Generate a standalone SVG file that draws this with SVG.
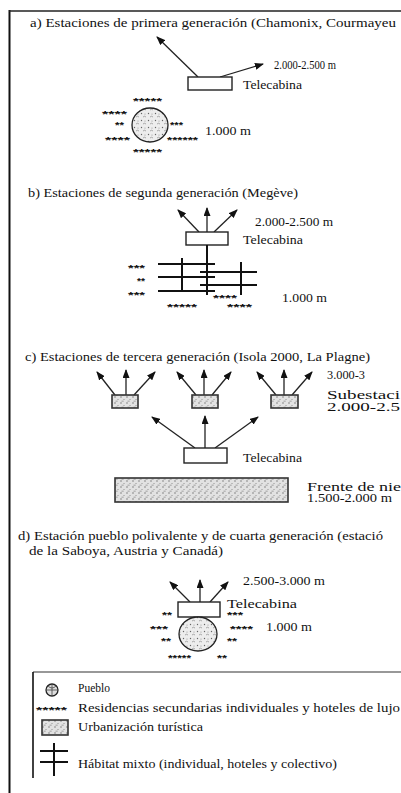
<svg xmlns="http://www.w3.org/2000/svg" width="401" height="793" viewBox="0 0 401 793">
<style>
text{font-family:"Liberation Serif","Times New Roman",serif;fill:#111}
.t{font-size:12.5px}
.s{font-size:11.5px}
.st{font-family:"Liberation Sans",Arial,sans-serif;font-size:9px;font-weight:bold}
.ln{stroke:#222;stroke-width:1.3;fill:none}
.box{fill:#fff;stroke:#222;stroke-width:1.4}
.sbox{fill:url(#stip);stroke:#333;stroke-width:1.6}
.grid{stroke:#111;stroke-width:2;fill:none}
.pue{fill:url(#stip2);stroke:#222;stroke-width:1.3}
</style>
<defs>
<marker id="ah" markerUnits="userSpaceOnUse" markerWidth="9" markerHeight="7" refX="8" refY="3.5" orient="auto">
<path d="M0,0 L9,3.5 L0,7 z" fill="#111"/>
</marker>
<pattern id="stip" width="6" height="6" patternUnits="userSpaceOnUse">
<rect width="6" height="6" fill="#e2e2e2"/>
<circle cx="1" cy="1" r="0.7" fill="#6a6a6a"/>
<circle cx="4" cy="3.5" r="0.6" fill="#8a8a8a"/>
<rect x="1.5" y="4.8" width="2.2" height="0.6" fill="#777"/>
</pattern>
<pattern id="stip2" width="7" height="7" patternUnits="userSpaceOnUse">
<rect width="7" height="7" fill="#ededed"/>
<circle cx="1.5" cy="1.5" r="0.7" fill="#666"/>
<path d="M3,5 q1.5,-1.5 3,0" stroke="#777" stroke-width="0.6" fill="none"/>
<circle cx="5" cy="2" r="0.5" fill="#888"/>
</pattern>
</defs>

<g id="frame">
<line x1="9.5" y1="10" x2="9.5" y2="793" stroke="#111" stroke-width="2"/>
<line x1="9" y1="11" x2="401" y2="11" stroke="#222" stroke-width="1.5"/>
</g>

<g id="connectors">
<line class="ln" x1="198" y1="77" x2="157" y2="37" marker-end="url(#ah)"/>
<line class="ln" x1="220" y1="77" x2="263" y2="64" marker-end="url(#ah)"/>
<line class="ln" x1="199" y1="232" x2="178" y2="210" marker-end="url(#ah)"/>
<line class="ln" x1="207" y1="232" x2="207" y2="208" marker-end="url(#ah)"/>
<line class="ln" x1="214" y1="232" x2="237" y2="210" marker-end="url(#ah)"/>
<line class="ln" x1="115" y1="395" x2="97" y2="372" marker-end="url(#ah)"/>
<line class="ln" x1="126" y1="395" x2="126" y2="370" marker-end="url(#ah)"/>
<line class="ln" x1="134" y1="395" x2="155" y2="372" marker-end="url(#ah)"/>
<line class="ln" x1="196" y1="395" x2="177" y2="372" marker-end="url(#ah)"/>
<line class="ln" x1="204" y1="395" x2="204" y2="370" marker-end="url(#ah)"/>
<line class="ln" x1="212" y1="395" x2="231" y2="372" marker-end="url(#ah)"/>
<line class="ln" x1="276" y1="395" x2="257" y2="372" marker-end="url(#ah)"/>
<line class="ln" x1="284" y1="395" x2="284" y2="370" marker-end="url(#ah)"/>
<line class="ln" x1="292" y1="395" x2="312" y2="372" marker-end="url(#ah)"/>
<line class="ln" x1="195" y1="448" x2="152" y2="417" marker-end="url(#ah)"/>
<line class="ln" x1="205" y1="448" x2="205" y2="416" stroke-width="1.8" marker-end="url(#ah)"/>
<line class="ln" x1="215" y1="448" x2="258" y2="417" marker-end="url(#ah)"/>
<line class="ln" x1="190" y1="602" x2="170" y2="582" marker-end="url(#ah)"/>
<line class="ln" x1="200" y1="602" x2="200" y2="580" stroke-width="1.8" marker-end="url(#ah)"/>
<line class="ln" x1="210" y1="602" x2="228" y2="582" marker-end="url(#ah)"/>
</g>

<g id="sec-a">
<text class="t" x="30" y="27" textLength="366" lengthAdjust="spacingAndGlyphs">a) Estaciones de primera generación (Chamonix, Courmayeu</text>
<text class="s" x="274" y="69" textLength="62" lengthAdjust="spacingAndGlyphs">2.000-2.500 m</text>
</g>
<g id="a-telecabina">
<rect class="box" x="188" y="77" width="44" height="13"/>
<text class="s" x="243" y="89" textLength="59" lengthAdjust="spacingAndGlyphs">Telecabina</text>
</g>
<g id="a-pueblo">
<ellipse class="pue" cx="150" cy="125" rx="18" ry="17"/>
<text class="st" x="133" y="104" textLength="29" lengthAdjust="spacingAndGlyphs">*****</text>
<text class="st" x="102" y="117" textLength="25" lengthAdjust="spacingAndGlyphs">****</text>
<text class="st" x="115" y="128" textLength="9" lengthAdjust="spacingAndGlyphs">**</text>
<text class="st" x="170" y="128" textLength="13" lengthAdjust="spacingAndGlyphs">***</text>
<text class="st" x="105" y="143" textLength="25" lengthAdjust="spacingAndGlyphs">****</text>
<text class="st" x="167" y="143" textLength="31" lengthAdjust="spacingAndGlyphs">******</text>
<text class="st" x="133" y="155" textLength="29" lengthAdjust="spacingAndGlyphs">*****</text>
<text class="s" x="205" y="135" textLength="46" lengthAdjust="spacingAndGlyphs">1.000 m</text>
</g>

<g id="sec-b">
<text class="t" x="28" y="197" textLength="270" lengthAdjust="spacingAndGlyphs">b) Estaciones de segunda generación (Megève)</text>
<text class="s" x="255" y="226" textLength="78" lengthAdjust="spacingAndGlyphs">2.000-2.500 m</text>
</g>
<g id="b-telecabina">
<rect class="box" x="186" y="232" width="42" height="13"/>
<text class="s" x="243" y="244" textLength="60" lengthAdjust="spacingAndGlyphs">Telecabina</text>
</g>
<g id="b-habitat">
<line class="grid" x1="207" y1="245" x2="207" y2="295"/>
<line class="grid" x1="182" y1="258" x2="182" y2="292"/>
<line class="grid" x1="241" y1="262" x2="241" y2="295"/>
<line class="grid" x1="158" y1="264" x2="215" y2="264"/>
<line class="grid" x1="158" y1="277" x2="215" y2="277"/>
<line class="grid" x1="158" y1="291" x2="215" y2="291"/>
<line class="grid" x1="200" y1="272" x2="257" y2="272"/>
<line class="grid" x1="200" y1="285" x2="257" y2="285"/>
<text class="st" x="128" y="271" textLength="17" lengthAdjust="spacingAndGlyphs">***</text>
<text class="st" x="137" y="284" textLength="8" lengthAdjust="spacingAndGlyphs">**</text>
<text class="st" x="128" y="298" textLength="17" lengthAdjust="spacingAndGlyphs">***</text>
<text class="st" x="213" y="301" textLength="24" lengthAdjust="spacingAndGlyphs">****</text>
<text class="st" x="167" y="310" textLength="30" lengthAdjust="spacingAndGlyphs">*****</text>
<text class="st" x="227" y="310" textLength="25" lengthAdjust="spacingAndGlyphs">****</text>
<text class="s" x="282" y="302" textLength="45" lengthAdjust="spacingAndGlyphs">1.000 m</text>
</g>

<g id="sec-c">
<text class="t" x="25" y="361" textLength="345" lengthAdjust="spacingAndGlyphs">c) Estaciones de tercera generación (Isola 2000, La Plagne)</text>
<text class="s" x="327" y="379" textLength="38" lengthAdjust="spacingAndGlyphs">3.000-3</text>
<text class="s" x="327" y="399" textLength="73" lengthAdjust="spacingAndGlyphs">Subestaci</text>
<text class="s" x="327" y="411" textLength="73" lengthAdjust="spacingAndGlyphs">2.000-2.5</text>
</g>
<g id="c-sub1"><rect class="sbox" x="112" y="395" width="26" height="13"/></g>
<g id="c-sub2"><rect class="sbox" x="192" y="395" width="26" height="13"/></g>
<g id="c-sub3"><rect class="sbox" x="271" y="395" width="27" height="13"/></g>
<g id="c-telecabina">
<rect class="box" x="184" y="448" width="43" height="15"/>
<text class="s" x="243" y="462" textLength="59" lengthAdjust="spacingAndGlyphs">Telecabina</text>
</g>
<g id="c-frente">
<rect class="sbox" x="115" y="478" width="173" height="24" stroke-width="1.2"/>
<text class="s" x="307" y="491" textLength="94" lengthAdjust="spacingAndGlyphs">Frente de nie</text>
<text class="s" x="307" y="502" textLength="85" lengthAdjust="spacingAndGlyphs">1.500-2.000 m</text>
</g>

<g id="sec-d">
<text class="t" x="18" y="540" textLength="365" lengthAdjust="spacingAndGlyphs">d) Estación pueblo polivalente y de cuarta generación (estació</text>
<text class="t" x="29" y="555" textLength="194" lengthAdjust="spacingAndGlyphs">de la Saboya, Austria y Canadá)</text>
<text class="s" x="243" y="585" textLength="82" lengthAdjust="spacingAndGlyphs">2.500-3.000 m</text>
</g>
<g id="d-telecabina">
<rect class="box" x="178" y="602" width="42" height="15"/>
<text class="s" x="227" y="608" textLength="70" lengthAdjust="spacingAndGlyphs">Telecabina</text>
</g>
<g id="d-pueblo">
<ellipse class="pue" cx="198" cy="634" rx="19" ry="17"/>
<text class="st" x="162" y="618" textLength="10" lengthAdjust="spacingAndGlyphs">**</text>
<text class="st" x="227" y="618" textLength="16" lengthAdjust="spacingAndGlyphs">***</text>
<text class="st" x="150" y="632" textLength="18" lengthAdjust="spacingAndGlyphs">***</text>
<text class="st" x="230" y="632" textLength="23" lengthAdjust="spacingAndGlyphs">****</text>
<text class="st" x="161" y="644" textLength="10" lengthAdjust="spacingAndGlyphs">**</text>
<text class="st" x="227" y="644" textLength="10" lengthAdjust="spacingAndGlyphs">**</text>
<text class="st" x="168" y="661" textLength="23" lengthAdjust="spacingAndGlyphs">*****</text>
<text class="st" x="217" y="661" textLength="10" lengthAdjust="spacingAndGlyphs">**</text>
<text class="s" x="266" y="631" textLength="46" lengthAdjust="spacingAndGlyphs">1.000 m</text>
</g>

<g id="legend">
<line x1="33" y1="672" x2="401" y2="672" stroke="#333" stroke-width="1.2"/>
<line x1="33" y1="672" x2="33" y2="778" stroke="#111" stroke-width="1.6"/>
<circle cx="52" cy="690" r="6" fill="#ddd" stroke="#222" stroke-width="1.3"/>
<path d="M46,690 H58 M52,684 V696 M48,686 Q52,690 56,686" stroke="#444" stroke-width="0.8" fill="none"/>
<text class="s" x="78" y="692" textLength="32" lengthAdjust="spacingAndGlyphs">Pueblo</text>
<text class="st" x="36" y="713" textLength="31" lengthAdjust="spacingAndGlyphs">*****</text>
<text class="s" x="78" y="712" textLength="322" lengthAdjust="spacingAndGlyphs">Residencias secundarias individuales y hoteles de lujo</text>
<rect class="sbox" x="42" y="720" width="26" height="15" stroke-width="1.2"/>
<text class="s" x="78" y="731" textLength="125" lengthAdjust="spacingAndGlyphs">Urbanización turística</text>
<line class="grid" x1="40" y1="751" x2="68" y2="751" stroke-width="1.6"/>
<line class="grid" x1="40" y1="762" x2="68" y2="762" stroke-width="1.6"/>
<line class="grid" x1="54" y1="743" x2="54" y2="776" stroke-width="1.6"/>
<text class="s" x="78" y="768" textLength="259" lengthAdjust="spacingAndGlyphs">Hábitat mixto (individual, hoteles y colectivo)</text>
</g>
</svg>
